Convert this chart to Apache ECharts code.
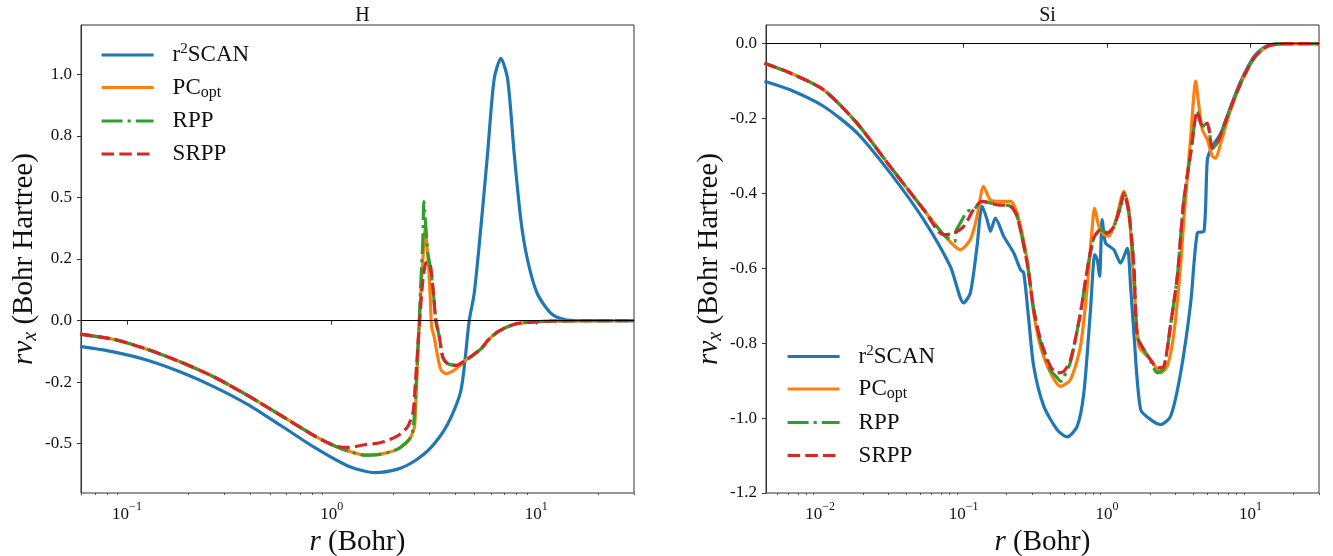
<!DOCTYPE html>
<html>
<head>
<meta charset="utf-8">
<script src="https://cdn.jsdelivr.net/npm/echarts@6/dist/echarts.min.js"></script>
<style>
  html, body { margin: 0; padding: 0; background: #ffffff; }
  #chart { width: 1333px; height: 556px; }
</style>
</head>
<body>
<div id="chart"></div>
<script>
// r * v_x (Bohr Hartree) against r (Bohr) for the H and Si atoms.
// Each curve is a list of [r, r*v_x] samples.

// ---- H ----
const hR2scan = [[0.059,-0.105],[0.087,-0.128],[0.127,-0.162],[0.184,-0.21],[0.268,-0.27],[0.39,-0.341],[0.567,-0.427],[0.824,-0.515],[1.2,-0.59],[1.62,-0.617],[2.1,-0.603],[2.54,-0.57],[3.06,-0.515],[3.69,-0.42],[4.28,-0.284],[4.7,0],[4.97,0.11],[5.36,0.38],[5.78,0.68],[6.22,0.98],[6.71,1.065],[7.24,0.98],[7.79,0.68],[8.4,0.409],[9.06,0.246],[10.1,0.11],[11.8,0.029],[13.7,0.004],[16.5,0],[30,0]];
const hPCopt = [[0.059,-0.055],[0.087,-0.077],[0.127,-0.118],[0.184,-0.169],[0.268,-0.23],[0.39,-0.305],[0.567,-0.386],[0.824,-0.468],[1.03,-0.508],[1.2,-0.529],[1.45,-0.546],[1.74,-0.542],[2.1,-0.522],[2.35,-0.49],[2.46,-0.465],[2.54,-0.43],[2.6,-0.26],[2.66,-0.06],[2.73,0.12],[2.8,0.27],[2.84,0.35],[2.87,0.375],[2.9,0.33],[2.97,0.232],[3.03,0.096],[3.08,-0.026],[3.17,-0.067],[3.3,-0.148],[3.42,-0.2],[3.62,-0.215],[3.9,-0.205],[4.13,-0.19],[4.45,-0.165],[5.36,-0.115],[5.8,-0.08],[6.5,-0.045],[7.8,-0.015],[9.4,-0.006],[13.6,-0.001],[30,0]];
const hRPP = [[0.059,-0.055],[0.087,-0.077],[0.127,-0.118],[0.184,-0.169],[0.268,-0.23],[0.39,-0.305],[0.567,-0.386],[0.824,-0.468],[1.03,-0.508],[1.2,-0.529],[1.45,-0.546],[1.74,-0.542],[2.1,-0.522],[2.35,-0.49],[2.44,-0.472],[2.5,-0.44],[2.56,-0.33],[2.63,-0.135],[2.68,0],[2.73,0.164],[2.79,0.327],[2.82,0.483],[2.86,0.42],[2.89,0.368],[2.95,0.273],[3.0,0.239],[3.12,0.137],[3.23,0],[3.36,-0.067],[3.49,-0.148],[3.69,-0.175],[4.05,-0.182],[4.45,-0.165],[5.36,-0.115],[5.8,-0.08],[6.5,-0.045],[7.8,-0.015],[9.4,-0.006],[13.6,-0.001],[30,0]];
const hSRPP = [[0.059,-0.055],[0.087,-0.077],[0.127,-0.118],[0.184,-0.169],[0.268,-0.23],[0.39,-0.305],[0.567,-0.386],[0.824,-0.468],[1.03,-0.508],[1.2,-0.515],[1.45,-0.504],[1.74,-0.495],[2.1,-0.468],[2.35,-0.431],[2.5,-0.37],[2.56,-0.26],[2.62,-0.14],[2.69,0],[2.79,0.164],[2.89,0.235],[3.0,0.237],[3.12,0.137],[3.23,0],[3.36,-0.067],[3.49,-0.148],[3.69,-0.175],[4.05,-0.182],[4.45,-0.165],[5.36,-0.115],[5.8,-0.08],[6.5,-0.045],[7.8,-0.015],[9.4,-0.006],[13.6,-0.001],[30,0]];

// ---- Si ----
const siR2scan = [[0.0041,-0.1],[0.00618,-0.123],[0.01057,-0.167],[0.01807,-0.238],[0.0308,-0.345],[0.0527,-0.47],[0.0809,-0.595],[0.1002,-0.692],[0.1115,-0.666],[0.1242,-0.541],[0.1346,-0.434],[0.146,-0.47],[0.1538,-0.501],[0.1667,-0.466],[0.1905,-0.514],[0.2238,-0.559],[0.249,-0.603],[0.2625,-0.612],[0.2846,-0.737],[0.3084,-0.862],[0.3623,-0.968],[0.449,-1.031],[0.527,-1.05],[0.619,-1.022],[0.689,-0.933],[0.767,-0.71],[0.822,-0.563],[0.855,-0.577],[0.887,-0.621],[0.926,-0.47],[0.976,-0.532],[1.115,-0.55],[1.242,-0.586],[1.384,-0.546],[1.459,-0.648],[1.538,-0.773],[1.713,-0.977],[2.012,-1.004],[2.363,-1.017],[2.774,-0.995],[3.259,-0.879],[3.828,-0.692],[4.26,-0.505],[4.74,-0.501],[5.0,-0.31],[5.34,-0.279],[6.2,-0.239],[7.28,-0.167],[8.55,-0.1],[10.58,-0.034],[13.1,-0.005],[17.1,0],[30,0]];
const siPCopt = [[0.0041,-0.052],[0.00618,-0.078],[0.01057,-0.123],[0.01807,-0.212],[0.0308,-0.328],[0.0527,-0.443],[0.0726,-0.51],[0.095,-0.55],[0.1115,-0.523],[0.1242,-0.461],[0.138,-0.381],[0.1538,-0.417],[0.1807,-0.421],[0.2122,-0.421],[0.236,-0.452],[0.2774,-0.577],[0.3084,-0.719],[0.3435,-0.808],[0.4035,-0.879],[0.474,-0.915],[0.5565,-0.897],[0.653,-0.808],[0.728,-0.648],[0.789,-0.488],[0.818,-0.439],[0.877,-0.488],[0.95,-0.51],[1.03,-0.514],[1.146,-0.474],[1.31,-0.394],[1.419,-0.443],[1.5,-0.577],[1.58,-0.71],[1.667,-0.808],[1.806,-0.826],[2.012,-0.844],[2.363,-0.879],[2.63,-0.861],[2.925,-0.773],[3.26,-0.59],[3.43,-0.47],[3.83,-0.248],[4.15,-0.1],[4.37,-0.167],[4.62,-0.23],[5.0,-0.256],[5.42,-0.301],[5.72,-0.305],[6.2,-0.265],[7.28,-0.176],[8.55,-0.105],[10.58,-0.038],[13.1,-0.007],[17.1,0],[30,0]];
const siRPP = [[0.0041,-0.052],[0.00618,-0.078],[0.01057,-0.123],[0.01807,-0.212],[0.0308,-0.328],[0.0527,-0.443],[0.0726,-0.51],[0.0809,-0.523],[0.087,-0.527],[0.0885,-0.5],[0.095,-0.479],[0.1058,-0.448],[0.1176,-0.443],[0.1346,-0.421],[0.1714,-0.43],[0.2122,-0.434],[0.236,-0.461],[0.2774,-0.586],[0.3084,-0.71],[0.3435,-0.795],[0.4035,-0.872],[0.449,-0.892],[0.474,-0.902],[0.5,-0.89],[0.5565,-0.85],[0.653,-0.719],[0.728,-0.603],[0.809,-0.519],[0.901,-0.497],[1.003,-0.506],[1.115,-0.488],[1.242,-0.434],[1.31,-0.399],[1.419,-0.452],[1.538,-0.595],[1.624,-0.782],[1.806,-0.817],[2.012,-0.848],[2.24,-0.879],[2.49,-0.866],[2.774,-0.75],[3.09,-0.621],[3.259,-0.514],[3.43,-0.417],[3.83,-0.292],[4.26,-0.181],[4.62,-0.221],[5.0,-0.212],[5.42,-0.279],[5.88,-0.265],[6.9,-0.194],[8.55,-0.105],[10.58,-0.038],[13.1,-0.007],[17.1,0],[30,0]];
const siSRPP = [[0.0041,-0.052],[0.00618,-0.078],[0.01057,-0.123],[0.01807,-0.212],[0.0308,-0.328],[0.0527,-0.443],[0.0726,-0.51],[0.0853,-0.506],[0.1002,-0.488],[0.1176,-0.443],[0.1346,-0.421],[0.1714,-0.43],[0.2122,-0.434],[0.236,-0.461],[0.2774,-0.586],[0.3084,-0.71],[0.3435,-0.79],[0.4035,-0.862],[0.449,-0.879],[0.5,-0.875],[0.5565,-0.844],[0.653,-0.719],[0.728,-0.603],[0.809,-0.519],[0.901,-0.497],[1.003,-0.506],[1.115,-0.488],[1.242,-0.434],[1.31,-0.399],[1.419,-0.452],[1.538,-0.595],[1.624,-0.782],[1.806,-0.817],[2.012,-0.844],[2.24,-0.866],[2.49,-0.861],[2.774,-0.75],[3.09,-0.621],[3.259,-0.514],[3.43,-0.417],[3.83,-0.292],[4.26,-0.181],[4.62,-0.221],[5.0,-0.212],[5.42,-0.279],[5.88,-0.265],[6.9,-0.194],[8.55,-0.105],[10.58,-0.038],[13.1,-0.007],[17.1,0],[30,0]];

// ---- axes ----
const hXRange = [0.0596, 30];
const siXRange = [0.0042, 30];
const hYRange = [-0.7, 1.2];
const siYRange = [-1.2, 0.05];
const hXTicks = [0.1, 1, 10];
const siXTicks = [0.01, 0.1, 1, 10];
const hYTicks = [-0.5, -0.25, 0, 0.25, 0.5, 0.75, 1.0];
const hYTickLabels = ['-0.5', '-0.2', '0.0', '0.2', '0.5', '0.8', '1.0'];
const siYTicks = [-1.2, -1.0, -0.8, -0.6, -0.4, -0.2, 0.0];
const siYTickLabels = ['-1.2', '-1.0', '-0.8', '-0.6', '-0.4', '-0.2', '0.0'];

const FONT = 'Liberation Serif';
const INK = '#111111';
const FRAME = '#333333';
const COLORS = { scan: '#1f77b4', pc: '#ff7f0e', rpp: '#2ca02c', srpp: '#d62728' };
const LW = 3.2;

// minor log ticks 2..9 per decade inside a range
function minorTicks(range) {
  const out = [];
  const d0 = Math.floor(Math.log10(range[0])), d1 = Math.ceil(Math.log10(range[1]));
  for (let d = d0; d <= d1; d++) {
    for (let k = 2; k <= 9; k++) {
      const v = k * Math.pow(10, d);
      if (v >= range[0] && v <= range[1]) out.push(v);
    }
  }
  return out;
}

function powLabel(v) {
  const e = Math.round(Math.log10(v));
  return '{b|10}{e|' + (e < 0 ? '\u2212' + (-e) : e) + '}';
}

const tickRich = {
  b: { fontFamily: FONT, fontSize: 17, color: INK, lineHeight: 22, verticalAlign: 'bottom' },
  e: { fontFamily: FONT, fontSize: 12, color: INK, lineHeight: 12, verticalAlign: 'top' }
};

const nameRich = {
  i: { fontFamily: FONT, fontSize: 29, fontStyle: 'italic', color: INK, lineHeight: 34 },
  s: { fontFamily: FONT, fontSize: 20, fontStyle: 'italic', color: INK, lineHeight: 20, verticalAlign: 'bottom' },
  n: { fontFamily: FONT, fontSize: 29, color: INK, lineHeight: 34 }
};

function xAxes(gi, range, ticks) {
  return [
    {
      type: 'log', logBase: 10, gridIndex: gi, position: 'bottom', min: range[0], max: range[1],
      axisLine: { show: true, lineStyle: { color: FRAME, width: 1 } },
      axisTick: { show: true, length: 4, customValues: ticks, lineStyle: { color: FRAME, width: 1 } },
      axisLabel: { show: true, customValues: ticks, margin: 8, formatter: powLabel, rich: tickRich },
      splitLine: { show: false },
      name: '{i|r}{n| (Bohr)}', nameLocation: 'middle', nameGap: 19,
      nameTextStyle: { rich: nameRich }
    },
    {
      type: 'log', logBase: 10, gridIndex: gi, position: 'bottom', min: range[0], max: range[1],
      axisLine: { show: false },
      axisTick: { show: true, length: 2, customValues: minorTicks(range), lineStyle: { color: FRAME, width: 0.8 } },
      axisLabel: { show: false },
      splitLine: { show: false }
    }
  ];
}

function yAxis(gi, range, ticks, labels) {
  return {
    type: 'value', gridIndex: gi, min: range[0], max: range[1],
    axisLine: { show: true, lineStyle: { color: FRAME, width: 1 } },
    axisTick: { show: true, length: 4, customValues: ticks, lineStyle: { color: FRAME, width: 1 } },
    axisLabel: {
      show: true, customValues: ticks, margin: 9,
      fontFamily: FONT, fontSize: 17, color: INK,
      formatter: function (v) {
        const i = ticks.findIndex(t => Math.abs(t - v) < 1e-9);
        return i >= 0 ? labels[i] : '';
      }
    },
    splitLine: { show: false },
    name: '{i|rv}{s|x}{n| (Bohr Hartree)}', nameLocation: 'middle', nameGap: 40, nameRotate: 90,
    nameTextStyle: { rich: nameRich }
  };
}

function curve(name, data, gi, color, dash, withZero) {
  const s = {
    name: name, type: 'line', data: data,
    xAxisIndex: gi * 2, yAxisIndex: gi,
    symbol: 'none', showSymbol: false, smooth: 0.25,
    lineStyle: { color: color, width: LW, type: dash || 'solid', cap: 'butt', join: 'round' },
    itemStyle: { color: color },
    emphasis: { disabled: true },
    z: 3
  };
  if (withZero) {
    s.markLine = {
      silent: true, symbol: ['none', 'none'], animation: false,
      label: { show: false },
      lineStyle: { color: '#000000', width: 1, type: 'solid' },
      data: [{ yAxis: 0 }]
    };
  }
  return s;
}

const DASH_RPP = [21, 5, 3.2, 5];
const DASH_SRPP = [12.5, 5.2];

function legendText(name) {
  if (name === 'PCopt') return '{b|PC}{s|opt}';
  if (name === 'r\u00b2SCAN') return '{b|r}{p|2}{b|SCAN}';
  return '{b|' + name + '}';
}

const legendRich = {
  b: { fontFamily: FONT, fontSize: 23, color: INK, lineHeight: 26 },
  s: { fontFamily: FONT, fontSize: 16, color: INK, lineHeight: 16, verticalAlign: 'bottom' },
  p: { fontFamily: FONT, fontSize: 15, color: INK, lineHeight: 15, verticalAlign: 'top' }
};

function legendAt(name, x, yc) {
  return {
    data: [name], left: x, top: yc - 13, padding: 0,
    itemWidth: 52, itemHeight: 26, selectedMode: false,
    itemStyle: { opacity: 0 },
    lineStyle: { width: LW },
    formatter: legendText,
    textStyle: { fontFamily: FONT, fontSize: 23, color: INK, padding: [0, 0, 0, 14], rich: legendRich }
  };
}

const names = ['r\u00b2SCAN', 'PCopt', 'RPP', 'SRPP'];
const hLegendY = [55, 89, 122.5, 155.5];
const siLegendY = [356.5, 390.5, 424, 457];

const chart = echarts.init(document.getElementById('chart'), null, { renderer: 'canvas' });
chart.setOption({
  animation: false,
  backgroundColor: '#ffffff',
  title: [
    { text: 'H', left: 357.5, top: 1, textAlign: 'center', textStyle: { fontFamily: FONT, fontSize: 20, fontWeight: 'normal', color: INK } },
    { text: 'Si', left: 1042.5, top: 1, textAlign: 'center', textStyle: { fontFamily: FONT, fontSize: 20, fontWeight: 'normal', color: INK } }
  ],
  grid: [
    { left: 81, right: 699, top: 25, bottom: 63, containLabel: false, outerBoundsMode: 'none', show: true, borderColor: FRAME, borderWidth: 1, backgroundColor: 'transparent' },
    { left: 766, right: 14, top: 25, bottom: 63, containLabel: false, outerBoundsMode: 'none', show: true, borderColor: FRAME, borderWidth: 1, backgroundColor: 'transparent' }
  ],
  xAxis: [].concat(xAxes(0, hXRange, hXTicks), xAxes(1, siXRange, siXTicks)),
  yAxis: [yAxis(0, hYRange, hYTicks, hYTickLabels), yAxis(1, siYRange, siYTicks, siYTickLabels)],
  legend: [].concat(
    names.map((n, i) => legendAt(n, 100, hLegendY[i])),
    names.map((n, i) => legendAt(n, 786, siLegendY[i]))
  ),
  series: [
    curve(names[0], hR2scan, 0, COLORS.scan, null, true),
    curve(names[1], hPCopt, 0, COLORS.pc),
    curve(names[2], hRPP, 0, COLORS.rpp, DASH_RPP),
    curve(names[3], hSRPP, 0, COLORS.srpp, DASH_SRPP),
    curve(names[0], siR2scan, 1, COLORS.scan, null, true),
    curve(names[1], siPCopt, 1, COLORS.pc),
    curve(names[2], siRPP, 1, COLORS.rpp, DASH_RPP),
    curve(names[3], siSRPP, 1, COLORS.srpp, DASH_SRPP)
  ]
});
</script>
</body>
</html>
